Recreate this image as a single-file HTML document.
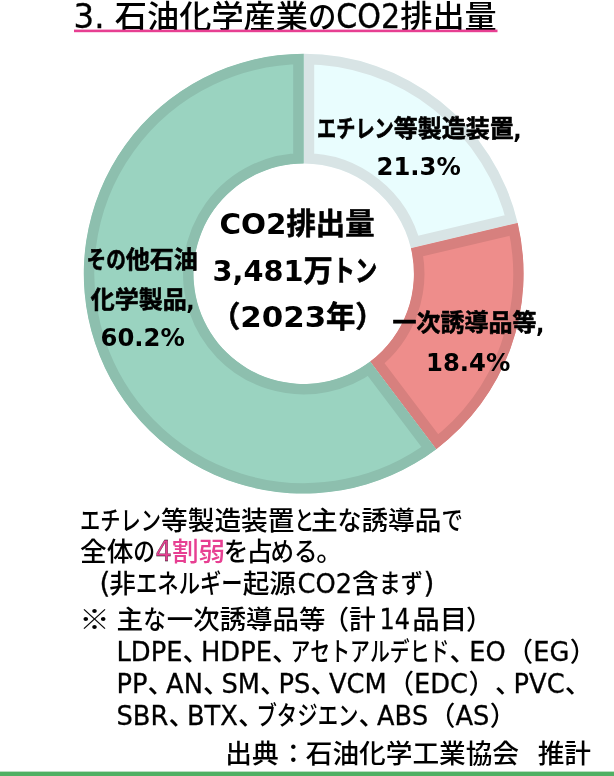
<!DOCTYPE html>
<html lang="ja">
<head>
<meta charset="utf-8">
<title>石油化学産業のCO2排出量</title>
<style>
html,body{margin:0;padding:0;background:#fff;}
body{width:614px;height:776px;overflow:hidden;position:relative;}
svg{display:block;position:absolute;left:0;top:0;}
text{text-spacing-trim:space-all;font-kerning:none;font-family:"Noto Sans CJK JP","Liberation Sans",sans-serif;fill:#000;font-weight:500;}
.l{font-family:"DejaVu Sans","Liberation Sans",sans-serif;font-weight:400;stroke:#000;stroke-width:.3px;}
.b .l{font-weight:700;stroke:none;}
.b{font-weight:700;stroke:#000;stroke-width:.6px;stroke-linejoin:round;}
</style>
</head>
<body>
<svg width="614" height="776" viewBox="0 0 614 776">
<rect x="0" y="0" width="614" height="776" fill="#ffffff"/>

<defs>
<clipPath id="cs1"><path d="M303.70 53.80A219.9 219.9 0 0 1 517.68 223.04L410.94 248.31A110.2 110.2 0 0 0 303.70 163.50Z"/></clipPath>
<clipPath id="cs2"><path d="M517.68 223.04A219.9 219.9 0 0 1 436.28 449.13L370.14 361.62A110.2 110.2 0 0 0 410.94 248.31Z"/></clipPath>
<clipPath id="cs3"><path d="M436.28 449.13A219.9 219.9 0 1 1 303.70 53.80L303.70 163.50A110.2 110.2 0 1 0 370.14 361.62Z"/></clipPath>
</defs>
<path d="M303.70 53.80A219.9 219.9 0 0 1 517.68 223.04L410.94 248.31A110.2 110.2 0 0 0 303.70 163.50Z" fill="#e9fdfe" stroke="#d8e4e5" stroke-width="21.0" stroke-linejoin="miter" clip-path="url(#cs1)"/>
<path d="M517.68 223.04A219.9 219.9 0 0 1 436.28 449.13L370.14 361.62A110.2 110.2 0 0 0 410.94 248.31Z" fill="#ee8d8b" stroke="#d7807e" stroke-width="21.0" stroke-linejoin="miter" clip-path="url(#cs2)"/>
<path d="M436.28 449.13A219.9 219.9 0 1 1 303.70 53.80L303.70 163.50A110.2 110.2 0 1 0 370.14 361.62Z" fill="#9ad3c0" stroke="#8dbfae" stroke-width="21.0" stroke-linejoin="miter" clip-path="url(#cs3)"/>
<rect x="0" y="771.6" width="614" height="4.4" fill="#50b063"/>
<text x="73.50" y="27.80" font-size="32.20" font-weight="400"><tspan class="l" font-size="33.50" textLength="41.33" lengthAdjust="spacingAndGlyphs">3. </tspan>石油化学産業<tspan textLength="28.34" lengthAdjust="spacingAndGlyphs">の</tspan><tspan class="l" font-size="33.50" textLength="63.97" lengthAdjust="spacingAndGlyphs">CO2</tspan>排出量</text>
<text x="317.00" y="137.00" font-size="24.00" class="b"><tspan textLength="76.80" lengthAdjust="spacingAndGlyphs">エチレン</tspan>等製造装置<tspan class="l" font-size="24.50" dy="1.2" dx="-0.50" textLength="8.38" lengthAdjust="spacingAndGlyphs">,</tspan></text>
<text x="376.50" y="175.00" font-size="24.00" class="b"><tspan class="l" font-size="25.30" textLength="84.26" lengthAdjust="spacingAndGlyphs">21.3%</tspan></text>
<text x="392.50" y="331.00" font-size="24.00" class="b">一次誘導品等<tspan class="l" font-size="24.50" dy="1.2" dx="-0.50" textLength="8.38" lengthAdjust="spacingAndGlyphs">,</tspan></text>
<text x="426.00" y="370.60" font-size="24.00" class="b"><tspan class="l" font-size="25.30" textLength="84.26" lengthAdjust="spacingAndGlyphs">18.4%</tspan></text>
<text x="86.50" y="267.50" font-size="24.00" class="b"><tspan textLength="39.36" lengthAdjust="spacingAndGlyphs">その</tspan>他石油</text>
<text x="90.70" y="307.50" font-size="24.00" class="b">化学製品<tspan class="l" font-size="24.50" dy="1.2" dx="-0.50" textLength="8.38" lengthAdjust="spacingAndGlyphs">,</tspan></text>
<text x="100.50" y="346.00" font-size="24.00" class="b"><tspan class="l" font-size="25.30" textLength="84.26" lengthAdjust="spacingAndGlyphs">60.2%</tspan></text>
<text x="219.50" y="234.00" font-size="29.33" class="b"><tspan class="l" font-size="29.00" textLength="67.00" lengthAdjust="spacingAndGlyphs">CO2</tspan>排出量</text>
<text x="212.50" y="280.70" font-size="29.33" class="b"><tspan class="l" font-size="29.00" textLength="91.00" lengthAdjust="spacingAndGlyphs">3,481</tspan>万<tspan textLength="44.58" lengthAdjust="spacingAndGlyphs">トン</tspan></text>
<text x="211.00" y="327.00" font-size="29.33" class="b">（<tspan class="l" font-size="29.00" textLength="86.00" lengthAdjust="spacingAndGlyphs">2023</tspan><tspan dx="-0.33">年）</tspan></text>
<text x="80.00" y="529.50" font-size="26.67"><tspan textLength="81.08" lengthAdjust="spacingAndGlyphs">エチレン</tspan>等製造装置<tspan textLength="20.00" lengthAdjust="spacingAndGlyphs">と</tspan><tspan dx="-3.43">主</tspan><tspan textLength="24.00" lengthAdjust="spacingAndGlyphs">な</tspan><tspan dx="-0.17">誘導品</tspan><tspan textLength="21.34" lengthAdjust="spacingAndGlyphs">で</tspan></text>
<text x="80.00" y="561.30" font-size="26.67">全体<tspan textLength="21.87" lengthAdjust="spacingAndGlyphs">の</tspan><tspan class="l" font-size="28.60" fill="#e73f92" stroke="#e73f92" textLength="16.74" lengthAdjust="spacingAndGlyphs">4</tspan><tspan fill="#e73f92">割弱</tspan><tspan dx="-1.50" textLength="24.54" lengthAdjust="spacingAndGlyphs">を</tspan><tspan dx="-2.00">占</tspan><tspan dx="-2.50" textLength="46.94" lengthAdjust="spacingAndGlyphs">める</tspan><tspan dx="-1.00">。</tspan></text>
<text x="99.50" y="593.30" font-size="26.67"><tspan class="l" font-size="28.50" textLength="10.84" lengthAdjust="spacingAndGlyphs">(</tspan><tspan dx="-1.04">非</tspan><tspan textLength="106.68" lengthAdjust="spacingAndGlyphs">エネルギー</tspan>起源<tspan class="l" font-size="26.40" dx="1.50" textLength="54.61" lengthAdjust="spacingAndGlyphs">CO2</tspan>含<tspan textLength="44.27" lengthAdjust="spacingAndGlyphs">まず</tspan><tspan class="l" font-size="28.50" dx="0.50" textLength="10.84" lengthAdjust="spacingAndGlyphs">)</tspan></text>
<text x="79.30" y="628.50" font-size="26.67"><tspan textLength="30.50" lengthAdjust="spacingAndGlyphs">※</tspan><tspan class="l" font-size="26.40" textLength="6.70" lengthAdjust="spacingAndGlyphs"> </tspan>主<tspan textLength="22.67" lengthAdjust="spacingAndGlyphs">な</tspan><tspan dx="0.96" textLength="158.60" lengthAdjust="spacingAndGlyphs">一次誘導品等</tspan><tspan dx="-3.00">（</tspan>計<tspan class="l" font-size="28.60" dx="3.76" textLength="30.57" lengthAdjust="spacingAndGlyphs">14</tspan><tspan dx="2.23" textLength="55.00" lengthAdjust="spacingAndGlyphs">品目</tspan><tspan dx="-1.30">）</tspan></text>
<text x="116.50" y="660.80" font-size="26.67"><tspan class="l" font-size="26.40" textLength="65.95" lengthAdjust="spacingAndGlyphs">LDPE</tspan>、<tspan class="l" font-size="26.40" dx="-8.13" textLength="70.96" lengthAdjust="spacingAndGlyphs">HDPE</tspan>、<tspan dx="-8.13" textLength="159.00" lengthAdjust="spacingAndGlyphs">アセトアルデヒド</tspan>、<tspan class="l" font-size="26.40" dx="-6.83" textLength="36.52" lengthAdjust="spacingAndGlyphs">EO</tspan><tspan dx="0.70">（</tspan><tspan class="l" font-size="26.40" textLength="36.21" lengthAdjust="spacingAndGlyphs">EG</tspan><tspan dx="0.30">）</tspan></text>
<text x="116.50" y="692.80" font-size="26.67"><tspan class="l" font-size="26.40" textLength="31.04" lengthAdjust="spacingAndGlyphs">PP</tspan>、<tspan class="l" font-size="26.40" dx="-8.13" textLength="36.86" lengthAdjust="spacingAndGlyphs">AN</tspan>、<tspan class="l" font-size="26.40" dx="-8.13" textLength="38.55" lengthAdjust="spacingAndGlyphs">SM</tspan>、<tspan class="l" font-size="26.40" dx="-8.13" textLength="31.86" lengthAdjust="spacingAndGlyphs">PS</tspan>、<tspan class="l" font-size="26.40" dx="-8.13" textLength="57.79" lengthAdjust="spacingAndGlyphs">VCM</tspan><tspan dx="0.70">（</tspan><tspan class="l" font-size="26.40" textLength="54.06" lengthAdjust="spacingAndGlyphs">EDC</tspan><tspan dx="0.30">）</tspan>、<tspan class="l" font-size="26.40" dx="-8.13" textLength="51.10" lengthAdjust="spacingAndGlyphs">PVC</tspan>、</text>
<text x="116.50" y="724.60" font-size="26.67"><tspan class="l" font-size="26.40" textLength="51.88" lengthAdjust="spacingAndGlyphs">SBR</tspan>、<tspan class="l" font-size="26.40" dx="-8.13" textLength="51.02" lengthAdjust="spacingAndGlyphs">BTX</tspan>、<tspan dx="-8.13" textLength="102.00" lengthAdjust="spacingAndGlyphs">ブタジエン</tspan>、<tspan class="l" font-size="26.40" dx="-8.13" textLength="51.15" lengthAdjust="spacingAndGlyphs">ABS</tspan><tspan dx="0.70">（</tspan><tspan class="l" font-size="26.40" textLength="33.95" lengthAdjust="spacingAndGlyphs">AS</tspan><tspan dx="0.30">）</tspan></text>
<text x="225.30" y="763.00" font-size="26.67">出典<tspan dx="1.50">：</tspan><tspan dx="-1.00">石油化学工業協会</tspan><tspan class="l" font-size="26.40" textLength="18.70" lengthAdjust="spacingAndGlyphs">  </tspan>推計</text>
<rect x="74" y="29.6" width="423.5" height="2.6" fill="#e73f92"/>
</svg>
</body>
</html>
